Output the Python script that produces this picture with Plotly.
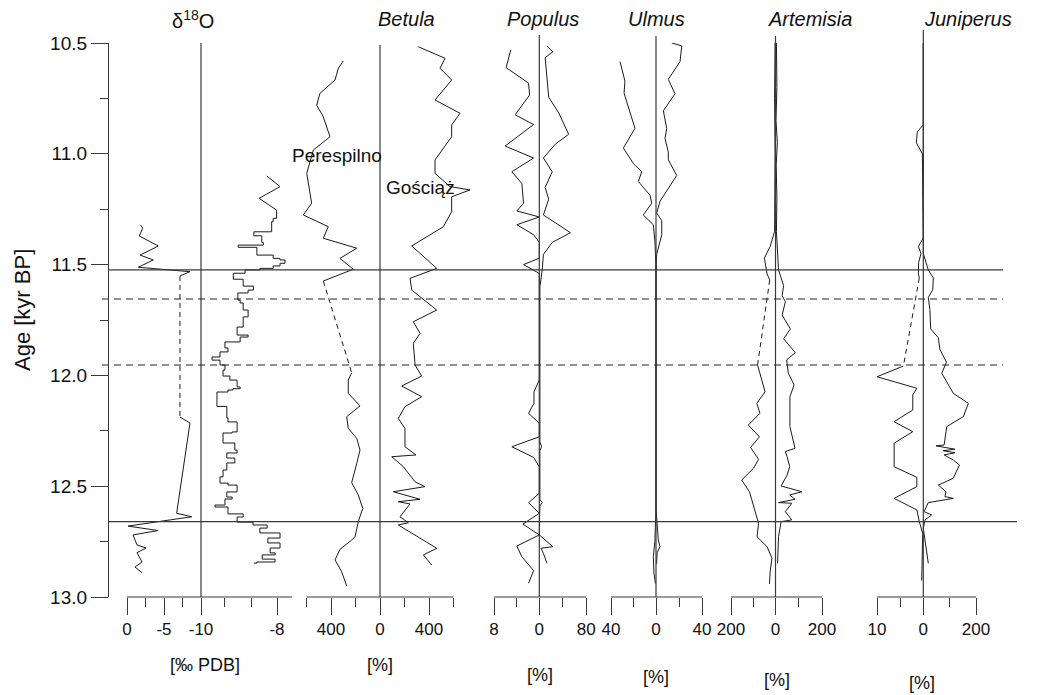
import plotly.graph_objects as go

# ---------------------------------------------------------------- data
AGE_TICKS = [10.5, 11.0, 11.5, 12.0, 12.5, 13.0]
AGE_TICK_TEXT = ["10.5", "11.0", "11.5", "12.0", "12.5", "13.0"]
AGE_MINOR = [10.75, 11.25, 11.75, 12.25, 12.75]

BOUNDARY_SOLID = [11.524, 12.66]
BOUNDARY_DASHED = [11.655, 11.953]

# delta 18O, left record
D18O_A_AGE = [11.321, 11.336, 11.371, 11.416, 11.457, 11.479, 11.512, 11.532, 11.551,
              12.188, 12.215, 12.622, 12.638, 12.68, 12.70, 12.72, 12.765, 12.779,
              12.80, 12.842, 12.865, 12.89]
D18O_A_VAL = [-1.85, -2.12, -1.66, -4.23, -1.76, -3.55, -1.53, -8.51, -7.16,
              -7.16, -8.51, -6.71, -8.74, -0.14, -4.19, -0.81, -1.35, -2.57,
              -1.35, -2.03, -1.08, -2.03]
D18O_A_GAP = (11.551, 12.188)

# delta 18O, right record (top part drawn straight, rest stepped)
D18O_B_AGE = [11.100, 11.148, 11.201, 11.254, 11.291, 11.306, 11.352, 11.37, 11.40, 11.412,
              11.422, 11.449, 11.457, 11.472, 11.479, 11.494, 11.506, 11.517, 11.524, 11.539,
              11.566, 11.597, 11.615, 11.628, 11.66, 11.673, 11.705, 11.736, 11.782, 11.818,
              11.827, 11.849, 11.876, 11.894, 11.917, 11.931, 11.953, 11.976, 12.003, 12.021,
              12.052, 12.06, 12.066, 12.075, 12.14, 12.192, 12.21, 12.255, 12.26, 12.305,
              12.337, 12.35, 12.373, 12.395, 12.427, 12.458, 12.486, 12.495, 12.526, 12.549,
              12.558, 12.585, 12.594, 12.61, 12.625, 12.639, 12.662, 12.675, 12.689, 12.711,
              12.734, 12.756, 12.779, 12.801, 12.81, 12.829, 12.842, 12.847]
D18O_B_VAL = [-8.27, -7.92, -8.47, -8.01, -8.10, -8.14, -8.61, -8.40, -8.36, -9.02,
              -8.53, -8.53, -8.10, -7.92, -7.79, -7.92, -8.10, -8.45, -8.84, -9.15,
              -8.89, -8.62, -8.76, -9.03, -8.97, -8.89, -8.76, -8.89, -9.05, -8.76,
              -8.97, -9.37, -9.29, -9.50, -9.71, -9.50, -9.37, -9.42, -9.24, -9.05,
              -8.97, -9.16, -9.29, -9.58, -9.32, -9.29, -9.05, -9.18, -9.42, -9.11,
              -9.05, -9.32, -9.11, -9.32, -9.42, -9.50, -9.29, -9.05, -9.32, -9.18,
              -9.37, -9.63, -9.29, -9.29, -8.89, -9.05, -8.63, -8.26, -8.45, -7.92,
              -8.24, -7.92, -8.18, -8.05, -8.39, -8.05, -8.53, -8.61]
D18O_B_STEP_FROM = 11.254  # stepped drawing starts at this age

# Betula, Perespilno (left) and Gosciaz (right)
BET_P_AGE = [10.581, 10.614, 10.667, 10.727, 10.78, 10.833, 10.923, 10.983, 11.088, 11.223,
             11.276, 11.329, 11.381, 11.426, 11.472, 11.521, 11.574, 11.988, 12.021, 12.081,
             12.138, 12.186, 12.239, 12.284, 12.337, 12.397, 12.484, 12.54, 12.60, 12.66,
             12.728, 12.743, 12.785, 12.833, 12.886, 12.95]
BET_P_VAL = [300, 340, 367, 490, 517, 463, 408, 544, 598, 558,
             626, 422, 463, 190, 327, 218, 463, 231, 259, 259,
             163, 272, 259, 190, 163, 190, 231, 177, 141, 177,
             204, 231, 327, 367, 313, 272]
BET_P_GAP = (11.574, 11.988)

BET_G_AGE = [10.517, 10.569, 10.614, 10.667, 10.757, 10.817, 10.87, 10.923, 11.028, 11.088,
             11.148, 11.163, 11.194, 11.261, 11.329, 11.416, 11.517, 11.562, 11.615, 11.705,
             11.758, 11.81, 11.855, 11.953, 12.003, 12.048, 12.096, 12.141, 12.194, 12.239,
             12.322, 12.359, 12.367, 12.412, 12.48, 12.502, 12.525, 12.559, 12.57, 12.58,
             12.638, 12.665, 12.675, 12.78, 12.81, 12.856]
BET_G_VAL = [313, 531, 490, 585, 449, 653, 585, 585, 449, 449,
             571, 735, 585, 585, 517, 259, 463, 245, 259, 463,
             272, 327, 272, 286, 340, 177, 340, 204, 149, 204,
             204, 294, 96, 190, 286, 367, 109, 327, 149, 245,
             163, 231, 149, 463, 354, 422]

# Populus
POP_L_AGE = [10.531, 10.611, 10.681, 10.735, 10.824, 10.868, 10.965, 11.019, 11.081, 11.134,
             11.223, 11.258, 11.285, 11.32, 11.365, 11.40, 11.471, 11.50, 11.54, 12.02,
             12.074, 12.126, 12.171, 12.216, 12.277, 12.322, 12.37, 12.412, 12.532, 12.574,
             12.622, 12.671, 12.72, 12.77, 12.818, 12.881, 12.938]
POP_L_VAL = [5.03, 5.87, 1.90, 1.72, 4.27, 1.01, 6.04, 1.01, 4.85, 3.08,
             2.79, 3.96, 0, 3.96, 1.01, 0, 0, 2.79, 0, 0,
             0.94, 0.94, 1.9, 0, 0, 4.85, 1.0, 0, 0, 1.9,
             0, 2.9, 0, 3.96, 3.1, 1.0, 1.9]
POP_R_AGE = [10.513, 10.54, 10.566, 10.672, 10.744, 10.815, 10.912, 10.957, 11.019, 11.081,
             11.152, 11.205, 11.276, 11.356, 11.40, 11.454, 11.524, 11.6, 12.0, 12.3,
             12.322, 12.34, 12.56, 12.574, 12.59, 12.72, 12.773, 12.78, 12.803, 12.848]
POP_R_VAL = [13, 23, 10, 13, 16, 33, 50, 27, 7, 22,
             10, 16, 7, 53, 22, 7, 5, 1, 1, 1,
             4, 1, 1, 5, 1, 0, 23, 3, 7, 13]

# Ulmus
ULM_L_AGE = [10.584, 10.672, 10.726, 10.885, 10.974, 11.045, 11.081, 11.125, 11.187, 11.223,
             11.276, 11.32, 11.40, 11.52, 12.6, 12.75, 12.818, 12.893, 12.94]
ULM_L_VAL = [32, 27.6, 28.4, 18.7, 29, 20, 12.7, 15.7, 5.3, 3.8,
             11.3, 2.4, 0.9, 0, 0, 1, 2.4, 1.8, 0.5]
ULM_R_AGE = [10.50, 10.513, 10.584, 10.664, 10.729, 10.806, 10.885, 10.93, 10.992, 11.027,
             11.098, 11.134, 11.214, 11.267, 11.302, 11.365, 11.454, 11.524, 12.6, 12.743,
             12.773, 12.80, 12.85]
ULM_R_VAL = [13.7, 22.4, 20.9, 10.7, 16.5, 6.4, 9.3, 7.8, 10.7, 10.7,
             18, 13.7, 3.5, 0.6, 5, 5, 0.6, 0, 0, 2,
             3.5, 1, 0.5]

# Artemisia
ART_L_AGE = [10.5, 10.75, 11.0, 11.2, 11.35, 11.418, 11.471, 11.542, 11.569, 11.953,
             12.074, 12.126, 12.171, 12.224, 12.277, 12.325, 12.379, 12.419, 12.472, 12.525,
             12.593, 12.668, 12.728, 12.773, 12.825, 12.886, 12.941]
ART_L_VAL = [2, 4, 2, 3, 4, 24, 50, 38, 26, 80.5,
             47, 84, 70, 122, 72, 112, 76, 99, 152, 117,
             99, 76, 83, 38, 16, 24, 27]
ART_L_GAP = (11.569, 11.953)
ART_R_AGE = [10.5, 10.7, 10.85, 10.95, 11.05, 11.2, 11.35, 11.45, 11.524, 11.595,
             11.64, 11.667, 11.728, 11.79, 11.835, 11.897, 11.93, 11.99, 12.043, 12.096,
             12.231, 12.329, 12.344, 12.367, 12.412, 12.45, 12.499, 12.525, 12.54, 12.559,
             12.574, 12.577, 12.615, 12.652, 12.66, 12.728, 12.848]
ART_R_VAL = [4, 6, 2, 8, 3, 6, 4, 8, 13, 35,
             28.5, 42.5, 28.5, 64, 35, 85, 48, 55, 80, 62,
             62, 84, 42, 50, 61, 50, 24, 113, 61, 84,
             13, 70, 42, 70, 24, 13, 9]

# Juniperus
JUN_L_AGE = [10.5, 10.87, 10.9, 10.95, 11.0, 11.38, 11.418, 11.45, 11.49, 11.542,
             11.56, 11.958, 12.006, 12.058, 12.088, 12.156, 12.209, 12.254, 12.306, 12.412,
             12.46, 12.502, 12.555, 12.607, 12.66, 12.713, 12.926]
JUN_L_VAL = [0, 0, 1.3, 1.5, 0.2, 0, 1.07, 0.5, 1.0, 1.07,
             0.86, 4.3, 10.0, 1.4, 2.27, 2.27, 6.3, 2.27, 6.3, 6.3,
             1.4, 1.4, 6.3, 1.4, 0.86, 0.13, 0.34]
JUN_L_GAP = (11.56, 11.958)
JUN_R_AGE = [10.5, 11.45, 11.524, 11.56, 11.613, 11.648, 11.702, 11.79, 11.83, 11.883,
             11.94, 11.99, 12.081, 12.126, 12.186, 12.231, 12.314, 12.318, 12.333, 12.34,
             12.349, 12.359, 12.382, 12.404, 12.464, 12.495, 12.525, 12.547, 12.555, 12.574,
             12.615, 12.63, 12.652, 12.69, 12.848]
JUN_R_VAL = [0, 0, 19, 38, 36, 19, 25, 28, 57, 63,
             88, 70, 114, 171, 152, 89, 79, 48, 120, 76,
             120, 79, 114, 137, 114, 57, 86, 82, 114, 19,
             3, 32, 6.5, 0, 19]

# ---------------------------------------------------------------- layout constants
W, H = 1046, 695
TOP_PX, BOT_PX = 43, 597
FONT = "Liberation Sans, Arial, sans-serif"
INK = "#1a1a1a"
AXC = "#3a3a3a"


def px_x(p):
    return p / W


def px_y(p):
    return (BOT_PX - p) / (BOT_PX - TOP_PX)


# axis key, domain px, ref value, ref px, px per unit, direction, majors, major text,
# minors, baseline from, baseline to
AXES = [
    ("x", (100, 300), 0, 127, 7.4, -1, [0, -5, -10], ["0", "-5", "-10"], [-2.5, -7.5], 0, -10),
    ("x2", (195, 300), -10, 201, 38, 1, [-8], ["-8"], [-9.37, -8.68], -10, -7.605),
    ("x3", (288, 478), 0, 380, 0.1225, -1, [400, 0], ["400", "0"], [200, 600], 0, 600),
    ("x4", (288, 478), 0, 380, 0.1225, 1, [400], ["400"], [200, 600], 0, 600),
    ("x5", (488, 594), 0, 539.3, 5.66, -1, [8, 0], ["8", "0"], [4], 0, 8),
    ("x6", (488, 594), 0, 539.3, 0.5875, 1, [80], ["80"], [40], 0, 80),
    ("x7", (603, 710), 0, 656, 1.125, -1, [40, 0], ["40", "0"], [20], 0, 40),
    ("x8", (603, 710), 0, 656, 1.15, 1, [40], ["40"], [20], 0, 40),
    ("x9", (722, 832), 0, 775.5, 0.2225, -1, [200, 0], ["200", "0"], [100], 0, 200),
    ("x10", (722, 832), 0, 775.5, 0.2325, 1, [200], ["200"], [100], 0, 200),
    ("x11", (868, 990), 0, 923.3, 4.63, -1, [10, 0], ["10", "0"], [5], 0, 10),
    ("x12", (868, 990), 0, 923.3, 0.2635, 1, [200], ["200"], [100], 0, 200),
]

# panel zero lines: axis, value, top (px)
ZERO_LINES = [("x", -10, 43), ("x3", 0, 45), ("x5", 0, 35), ("x7", 0, 36), ("x9", 0, 36), ("x11", 0, 30)]

fig = go.Figure()


def add_curve(ages, vals, xa, gap=None, shape="linear"):
    xs, ys = list(vals), list(ages)
    if gap is not None:
        i = ages.index(gap[0])
        xs = list(vals[:i + 1]) + [None] + list(vals[i + 1:])
        ys = list(ages[:i + 1]) + [None] + list(ages[i + 1:])
        fig.add_trace(go.Scatter(x=[vals[i], vals[i + 1]], y=[ages[i], ages[i + 1]],
                                 xaxis=xa, yaxis="y", mode="lines",
                                 line=dict(color=INK, width=1, dash="5px,4px"),
                                 hoverinfo="skip", showlegend=False))
    fig.add_trace(go.Scatter(x=xs, y=ys, xaxis=xa, yaxis="y", mode="lines",
                             line=dict(color=INK, width=1, shape=shape),
                             connectgaps=False, hoverinfo="skip", showlegend=False))


add_curve(D18O_A_AGE, D18O_A_VAL, "x", D18O_A_GAP)
k = D18O_B_AGE.index(D18O_B_STEP_FROM)
add_curve(D18O_B_AGE[:k + 1], D18O_B_VAL[:k + 1], "x2")
add_curve(D18O_B_AGE[k:], D18O_B_VAL[k:], "x2", shape="vh")
add_curve(BET_P_AGE, BET_P_VAL, "x3", BET_P_GAP)
add_curve(BET_G_AGE, BET_G_VAL, "x4")
add_curve(POP_L_AGE, POP_L_VAL, "x5")
add_curve(POP_R_AGE, POP_R_VAL, "x6")
add_curve(ULM_L_AGE, ULM_L_VAL, "x7")
add_curve(ULM_R_AGE, ULM_R_VAL, "x8")
add_curve(ART_L_AGE, ART_L_VAL, "x9", ART_L_GAP)
add_curve(ART_R_AGE, ART_R_VAL, "x10")
add_curve(JUN_L_AGE, JUN_L_VAL, "x11", JUN_L_GAP)
add_curve(JUN_R_AGE, JUN_R_VAL, "x12")

layout_axes = {}
shapes = []
for key, (dl, dr), vref, pref, ppu, sgn, majors, mtext, minors, b0, b1 in AXES:
    rng = [vref + sgn * (dl - pref) / ppu, vref + sgn * (dr - pref) / ppu]
    name = "xaxis" if key == "x" else "xaxis" + key[1:]
    layout_axes[name] = dict(
        domain=[px_x(dl), px_x(dr)], range=rng, anchor="y",
        showline=False, showgrid=False, zeroline=False,
        tickmode="array", tickvals=majors, ticktext=mtext,
        ticks="outside", ticklen=17, tickwidth=1, tickcolor=AXC,
        tickfont=dict(family=FONT, size=17, color="#111"),
        minor=dict(tickmode="array", tickvals=minors, ticks="outside",
                   ticklen=9, tickwidth=1, tickcolor=AXC, showgrid=False),
        fixedrange=True,
    )
    shapes.append(dict(type="line", xref=key, yref="paper", x0=b0, x1=b1, y0=0, y1=0,
                       line=dict(color=AXC, width=1.2)))

for key, v, top in ZERO_LINES:
    shapes.append(dict(type="line", xref=key, yref="paper", x0=v, x1=v, y0=0, y1=px_y(top),
                       line=dict(color=AXC, width=1.2)))

for a, xr in zip(BOUNDARY_SOLID, [1003, 1017]):
    shapes.append(dict(type="line", xref="paper", yref="y", x0=px_x(108), x1=px_x(xr), y0=a, y1=a,
                       line=dict(color="#383838", width=1.3)))
for a in BOUNDARY_DASHED:
    shapes.append(dict(type="line", xref="paper", yref="y", x0=px_x(102), x1=px_x(1003), y0=a, y1=a,
                       line=dict(color="#222222", width=1.1, dash="7px,5px")))

annotations = []


def note(text, xp, yp, size, angle=0):
    annotations.append(dict(text=text, xref="paper", yref="paper", x=px_x(xp), y=px_y(yp),
                            xanchor="center", yanchor="middle", showarrow=False, textangle=angle,
                            font=dict(family=FONT, size=size, color="#111")))


note("δ<sup>18</sup>O", 193, 19, 20)
note("<i>Betula</i>", 406, 19, 20)
note("<i>Populus</i>", 543, 19, 20)
note("<i>Ulmus</i>", 656, 19, 20)
note("<i>Artemisia</i>", 810, 19, 20)
note("<i>Juniperus</i>", 968, 19, 20)
note("Perespilno", 337, 155, 19)
note("Gościąż", 420, 188, 19)
note("[‰ PDB]", 205, 665, 18)
note("[%]", 380, 665, 18)
note("[%]", 540, 675, 18)
note("[%]", 656, 677, 18)
note("[%]", 777, 680, 18)
note("[%]", 922, 683, 18)
note("Age [kyr BP]", 22, 310, 22, -90)

fig.update_layout(
    width=W, height=H,
    margin=dict(l=0, r=0, t=TOP_PX, b=H - BOT_PX, pad=0, autoexpand=False),
    paper_bgcolor="white", plot_bgcolor="rgba(0,0,0,0)",
    showlegend=False,
    yaxis=dict(domain=[0, 1], range=[13.0, 10.5], anchor="free", position=px_x(108),
               showline=True, linecolor=AXC, linewidth=1.2, showgrid=False, zeroline=False,
               tickmode="array", tickvals=AGE_TICKS, ticktext=AGE_TICK_TEXT,
               ticks="outside", ticklen=17, tickwidth=1, tickcolor=AXC,
               tickfont=dict(family=FONT, size=19, color="#111"),
               minor=dict(tickmode="array", tickvals=AGE_MINOR, ticks="outside", ticklen=8,
                          tickwidth=1, tickcolor=AXC, showgrid=False),
               automargin=False, fixedrange=True),
    shapes=shapes, annotations=annotations,
    **layout_axes,
)

fig.write_html("out.html", config={"displayModeBar": False},
               post_script="document.body.style.margin='0px';document.body.style.overflow='hidden';")
